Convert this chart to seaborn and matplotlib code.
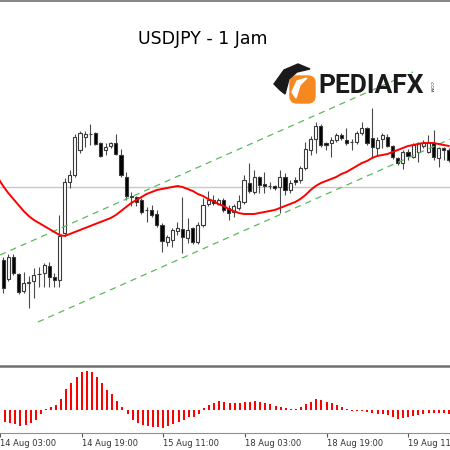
import pandas as pd
import matplotlib.pyplot as plt
import matplotlib.patches as mpatches
import seaborn as sns

# hourly candles, index 0 = 14 Aug 03:00
hours = list(range(1, 89))
opens = [145.40, 145.21, 145.43, 145.26, 145.09, 145.17, 145.19, 145.26, 145.27, 145.34,
         145.23, 145.20, 145.67, 146.18, 146.25, 146.50, 146.63, 146.66, 146.67, 146.57,
         146.50, 146.54, 146.57, 146.45, 146.23, 146.03, 146.03, 146.00, 145.90, 145.90,
         145.86, 145.75, 145.58, 145.60, 145.69, 145.71, 145.62, 145.72, 145.58, 145.75,
         145.96, 146.00, 145.96, 146.00, 145.92, 145.88, 145.92, 145.98, 146.17, 146.08,
         146.23, 146.16, 146.14, 146.14, 146.13, 146.23, 146.10, 146.20, 146.20, 146.32,
         146.50, 146.61, 146.74, 146.57, 146.57, 146.60, 146.65, 146.60, 146.58, 146.58,
         146.67, 146.72, 146.62, 146.52, 146.61, 146.63, 146.54, 146.42, 146.37, 146.48,
         146.43, 146.48, 146.54, 146.48, 146.57, 146.42, 146.52, 146.50]
highs = [145.43, 145.46, 145.46, 145.27, 145.28, 145.24, 145.32, 145.33, 145.37, 145.38,
         145.27, 145.85, 146.22, 146.30, 146.66, 146.69, 146.69, 146.76, 146.68, 146.58,
         146.57, 146.58, 146.66, 146.51, 146.28, 146.08, 146.04, 146.02, 145.93, 145.95,
         145.90, 145.77, 145.65, 145.72, 145.78, 146.03, 145.82, 145.73, 145.78, 146.02,
         146.09, 146.05, 146.02, 146.02, 145.95, 145.96, 146.05, 146.25, 146.37, 146.30,
         146.24, 146.28, 146.18, 146.15, 146.30, 146.27, 146.20, 146.23, 146.34, 146.58,
         146.64, 146.78, 146.76, 146.58, 146.63, 146.67, 146.67, 146.72, 146.61, 146.69,
         146.78, 146.73, 146.92, 146.63, 146.67, 146.66, 146.55, 146.43, 146.50, 146.51,
         146.57, 146.58, 146.60, 146.65, 146.70, 146.53, 146.53, 146.52]
lows = [145.07, 145.19, 145.25, 145.06, 145.07, 144.92, 145.02, 145.13, 145.13, 145.13,
        145.13, 145.13, 145.64, 146.12, 146.23, 146.47, 146.53, 146.55, 146.55, 146.43,
        146.45, 146.52, 146.45, 146.23, 146.00, 145.94, 145.94, 145.86, 145.78, 145.83,
        145.73, 145.48, 145.54, 145.53, 145.65, 145.47, 145.57, 145.56, 145.56, 145.73,
        145.94, 145.95, 145.95, 145.88, 145.80, 145.83, 145.90, 145.96, 146.07, 146.06,
        146.07, 146.07, 146.11, 146.10, 145.87, 146.05, 146.07, 146.15, 146.17, 146.30,
        146.45, 146.47, 146.53, 146.50, 146.43, 146.58, 146.60, 146.55, 146.50, 146.56,
        146.65, 146.55, 146.42, 146.45, 146.52, 146.53, 146.41, 146.35, 146.31, 146.40,
        146.42, 146.38, 146.52, 146.47, 146.40, 146.33, 146.40, 146.38]
closes = [145.12, 145.43, 145.27, 145.08, 145.17, 145.18, 145.25, 145.26, 145.35, 145.23,
          145.20, 145.64, 146.18, 146.25, 146.63, 146.67, 146.66, 146.66, 146.56, 146.44,
          146.53, 146.57, 146.46, 146.25, 146.04, 146.04, 145.98, 145.88, 145.90, 145.85,
          145.75, 145.59, 145.63, 145.70, 145.72, 145.63, 145.70, 145.58, 145.75, 145.95,
          146.00, 145.97, 146.00, 145.90, 145.87, 145.94, 145.99, 146.20, 146.09, 146.23,
          146.15, 146.14, 146.14, 146.12, 146.23, 146.10, 146.17, 146.18, 146.32, 146.51,
          146.61, 146.74, 146.55, 146.55, 146.60, 146.65, 146.62, 146.57, 146.58, 146.67,
          146.72, 146.57, 146.53, 146.60, 146.65, 146.54, 146.43, 146.37, 146.48, 146.44,
          146.55, 146.57, 146.57, 146.58, 146.43, 146.52, 146.50, 146.40]

# moving average (red line), read per candle from 0 to 88
ma_hours = list(range(0, 89))
ma_values = [146.22, 146.14, 146.07, 146.01, 145.95, 145.89, 145.84, 145.80, 145.77, 145.74,
             145.71, 145.68, 145.65, 145.64, 145.66, 145.68, 145.70, 145.72, 145.74, 145.76,
             145.78, 145.80, 145.82, 145.85, 145.89, 145.93, 145.97, 146.00, 146.03, 146.06,
             146.08, 146.10, 146.11, 146.12, 146.13, 146.14, 146.13, 146.11, 146.09, 146.06,
             146.04, 146.01, 145.99, 145.96, 145.94, 145.91, 145.89, 145.87, 145.86, 145.86,
             145.86, 145.87, 145.88, 145.89, 145.90, 145.92, 145.94, 145.96, 145.98, 146.01,
             146.05, 146.10, 146.14, 146.17, 146.19, 146.21, 146.23, 146.26, 146.28, 146.31,
             146.34, 146.37, 146.39, 146.42, 146.44, 146.45, 146.46, 146.48, 146.50, 146.52,
             146.54, 146.55, 146.56, 146.57, 146.57, 146.57, 146.56, 146.55, 146.54]

# oscillator histogram (lower panel)
osc_values = [-0.117, -0.127, -0.140, -0.160, -0.150, -0.133, -0.100, -0.040, 0.010, 0.033,
              0.050, 0.107, 0.207, 0.273, 0.333, 0.377, 0.390, 0.377, 0.333, 0.273,
              0.200, 0.160, 0.093, 0.033, -0.040, -0.100, -0.127, -0.150, -0.160, -0.167,
              -0.173, -0.177, -0.160, -0.140, -0.117, -0.100, -0.073, -0.073, -0.040, 0.017,
              0.050, 0.067, 0.090, 0.083, 0.073, 0.067, 0.067, 0.083, 0.083, 0.090,
              0.083, 0.073, 0.057, 0.043, 0.033, 0.017, 0.010, 0.010, 0.027, 0.057,
              0.083, 0.107, 0.100, 0.083, 0.073, 0.050, 0.033, 0.010, -0.005, -0.007,
              -0.010, -0.017, -0.033, -0.040, -0.043, -0.050, -0.067, -0.093, -0.083, -0.073,
              -0.060, -0.050, -0.040, -0.033, -0.033, -0.033, -0.033, -0.040]

bid_level = 146.13
channel_upper_x = [0.4, 81.0]
channel_upper_y = [145.45, 147.28]
channel_lower_x = [7.8, 88.3]
channel_lower_y = [144.78, 146.61]

tick_hours = [0, 16, 32, 48, 64, 80]
tick_labels = ["14 Aug 03:00", "14 Aug 19:00", "15 Aug 11:00",
               "18 Aug 03:00", "18 Aug 19:00", "19 Aug 11:00"]
title = "USDJPY - 1 Jam"

sns.set_style("white")
plt.rcParams['font.family'] = ['DejaVu Sans']

df = pd.DataFrame({"hour": hours, "open": opens, "high": highs,
                   "low": lows, "close": closes})
df["bull"] = df["close"] >= df["open"]
df["bottom"] = df[["open", "close"]].min(axis=1)
df["body"] = (df["close"] - df["open"]).abs()

fig = plt.figure(figsize=(4.5, 4.5), dpi=100)
ax = fig.add_axes([0, 1 - 366 / 450, 1, 365 / 450])
ax2 = fig.add_axes([0, 1 - 433 / 450, 1, 67 / 450])

# candles
ax.vlines(df["hour"], df["low"], df["high"], color="#4a4a4a", lw=0.8, zorder=2)
ax.bar(df["hour"], df["body"], bottom=df["bottom"], width=0.62,
       color=["white" if b else "black" for b in df["bull"]],
       edgecolor="#3a3a3a", linewidth=0.8, zorder=2.5)

ax.axhline(bid_level, color="#c8c8c8", lw=1, zorder=1)
ax.plot(channel_upper_x, channel_upper_y, color="#5cb85c", lw=0.9, dashes=(5, 4), zorder=3)
ax.plot(channel_lower_x, channel_lower_y, color="#5cb85c", lw=0.9, dashes=(5, 4), zorder=3)
sns.lineplot(x=ma_hours, y=ma_values, color="red", lw=1.4, ax=ax, zorder=4)

ax.set_xlim(0.39, 88.2)
ax.set_ylim(144.34, 147.99)
ax.set_xticks([])
ax.set_yticks([])
ax.set_xlabel("")
ax.set_ylabel("")
for side in ["left", "right", "bottom"]:
    ax.spines[side].set_visible(False)
ax.spines["top"].set_color("#707070")
ax.spines["top"].set_linewidth(1.2)

# lower panel
sns.barplot(x=hours, y=osc_values, native_scale=True, color="red", saturation=1,
            width=0.39, errorbar=None, linewidth=0, ax=ax2)
for bar in ax2.patches:
    bar.set_antialiased(False)
ax2.set_xlim(0.39, 88.2)
ax2.set_ylim(-0.23, 0.44)
ax2.set_yticks([])
ax2.set_xticks(tick_hours)
ax2.set_xticklabels(tick_labels, ha="left", fontsize=6.0, color="#333333")
ax2.tick_params(axis="x", length=3, width=0.8, color="#555555", pad=1.5, direction="out", bottom=True)
ax2.set_xlabel("")
ax2.set_ylabel("")
for side in ["left", "right"]:
    ax2.spines[side].set_visible(False)
ax2.spines["top"].set_color("#707070")
ax2.spines["top"].set_linewidth(1.8)
ax2.spines["bottom"].set_color("#909090")
ax2.spines["bottom"].set_linewidth(0.8)

# title and logo overlay (pixel coordinates)
over = fig.add_axes([0, 0, 1, 1], zorder=5)
over.set_xlim(0, 450)
over.set_ylim(450, 0)
over.axis("off")
over.patch.set_visible(False)
over.text(203, 39, title, ha="center", va="center", fontsize=12.5, color="black")

over.add_patch(mpatches.FancyBboxPatch((290, 76), 25, 27, boxstyle="round,pad=0,rounding_size=7",
                                       color="#f5891f", zorder=2))
over.add_patch(mpatches.Polygon([[274, 84], [284, 70], [298, 64], [310, 69], [297, 72],
                                 [289, 79], [285, 94], [280, 90]], color="#1a1a1a", zorder=3))
over.add_patch(mpatches.Polygon([[292, 92], [297, 81], [307, 78], [300, 85], [296, 98]],
                                color="white", zorder=3))
over.text(318, 86, "PEDIAFX", ha="left", va="center", fontsize=19, fontweight="bold",
          family="Roboto", color="#1a1a1a")
over.text(431, 87, ".COM", ha="center", va="center", fontsize=3.2, rotation=-90, color="#1a1a1a")

fig.savefig("out.png", dpi=100, facecolor="white")
